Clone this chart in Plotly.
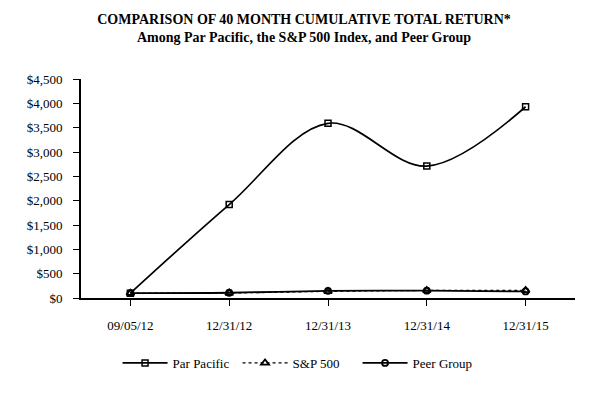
import plotly.graph_objects as go

dates = ["09/05/12", "12/31/12", "12/31/13", "12/31/14", "12/31/15"]
par_pacific = [100, 1920, 3590, 2710, 3930]
sp500 = [100, 103, 136, 155, 157]
peer_group = [100, 108, 148, 150, 135]
y_ticks = [0, 500, 1000, 1500, 2000, 2500, 3000, 3500, 4000, 4500]
y_labels = ["$0", "$500", "$1,000", "$1,500", "$2,000", "$2,500", "$3,000", "$3,500", "$4,000", "$4,500"]

FONT = "Times New Roman"
xs = list(range(len(dates)))

fig = go.Figure()
fig.add_trace(go.Scatter(
    x=xs, y=par_pacific, name="Par Pacific", mode="lines+markers",
    line=dict(color="black", width=1.7, shape="spline", smoothing=1.0),
    marker=dict(symbol="square-open", size=6, color="black", line=dict(width=1.5)),
))
fig.add_trace(go.Scatter(
    x=xs, y=sp500, name="S&P 500", mode="lines+markers",
    line=dict(color="black", width=1.2, dash="dot", shape="spline", smoothing=1.0),
    marker=dict(symbol="triangle-up-open", size=7, color="black", line=dict(width=1.8)),
))
fig.add_trace(go.Scatter(
    x=xs, y=peer_group, name="Peer Group", mode="lines+markers",
    line=dict(color="black", width=1.8, shape="spline", smoothing=1.0),
    marker=dict(symbol="circle-open", size=6, color="black", line=dict(width=1.8)),
))

fig.update_layout(
    width=592, height=384,
    margin=dict(l=73, r=25, t=71, b=94),
    paper_bgcolor="white", plot_bgcolor="white",
    font=dict(family=FONT, size=12, color="black"),
    title=dict(
        text="<b>COMPARISON OF 40 MONTH CUMULATIVE TOTAL RETURN*</b><br><b>Among Par Pacific, the S&P 500 Index, and Peer Group</b>",
        x=0.5, xanchor="center", y=0.958, yanchor="top",
        font=dict(family=FONT, size=14, color="black"),
    ),
    showlegend=True,
    legend=dict(orientation="h", x=0.074, xanchor="left", y=-0.228, yanchor="top",
                font=dict(family=FONT, size=13), itemwidth=45,
                entrywidth=60, entrywidthmode="pixels", tracegroupgap=0),
)
fig.update_xaxes(
    range=[-0.5, 4.5], tickmode="array", tickvals=xs, ticktext=dates,
    showline=True, linecolor="black", linewidth=2, showgrid=False, zeroline=False,
    ticks="outside", ticklen=6, tickcolor="black", tickwidth=1,
    ticklabelstandoff=8, tickfont=dict(family=FONT, size=13),
)
fig.update_yaxes(
    range=[0, 4500], tickmode="array", tickvals=y_ticks, ticktext=y_labels,
    showline=True, linecolor="black", linewidth=2, showgrid=False, zeroline=False,
    ticks="outside", ticklen=6, tickcolor="black", tickwidth=1,
    ticklabelstandoff=8, tickfont=dict(family=FONT, size=13),
)

fig.write_html("out.html")
